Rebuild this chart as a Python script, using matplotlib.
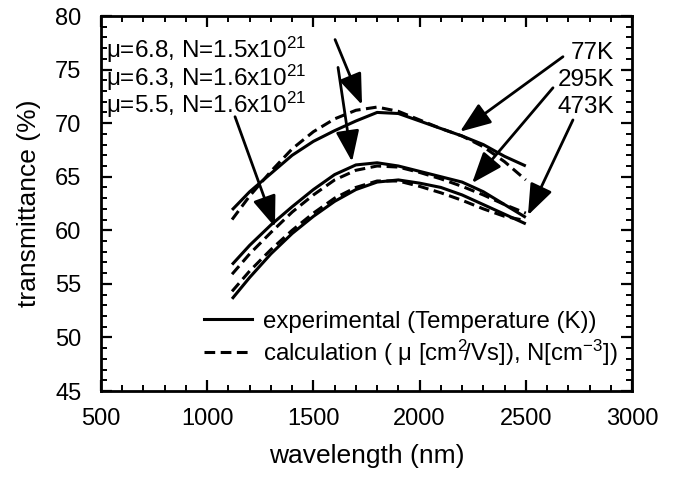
import matplotlib
matplotlib.use('Agg')
import matplotlib.pyplot as plt
from matplotlib.lines import Line2D
from matplotlib.ticker import MultipleLocator

plt.rcParams['font.family'] = ['Liberation Sans', 'DejaVu Sans']
plt.rcParams['mathtext.fontset'] = 'custom'
plt.rcParams['mathtext.rm'] = 'Liberation Sans'
plt.rcParams['mathtext.it'] = 'Liberation Sans:italic'
plt.rcParams['mathtext.default'] = 'rm'

# wavelength grid (nm)
wavelength = [1117, 1200, 1300, 1400, 1500, 1600, 1700, 1800,
              1900, 2000, 2100, 2200, 2300, 2400, 2500]

# experimental transmittance (%)
exp_77K = [61.9, 63.6, 65.3, 67.0, 68.3, 69.3, 70.2, 71.0,
           70.9, 70.2, 69.5, 68.8, 68.0, 66.9, 66.0]
exp_295K = [56.8, 58.6, 60.5, 62.2, 63.8, 65.2, 66.1, 66.3,
            66.0, 65.5, 65.0, 64.5, 63.6, 62.4, 61.2]
exp_473K = [53.6, 55.6, 57.8, 59.7, 61.3, 62.7, 63.8, 64.5,
            64.7, 64.4, 64.0, 63.3, 62.4, 61.5, 60.6]

# calculated transmittance (%)
calc_68 = [61.0, 63.2, 65.5, 67.6, 69.2, 70.4, 71.2, 71.5,
           71.1, 70.3, 69.5, 68.8, 67.8, 66.4, 64.7]
calc_63 = [55.9, 57.8, 59.8, 61.7, 63.3, 64.7, 65.6, 66.0,
           65.9, 65.4, 64.8, 64.1, 63.3, 62.4, 61.6]
calc_55 = [54.3, 56.2, 58.2, 60.0, 61.6, 63.0, 64.0, 64.6,
           64.6, 64.1, 63.5, 62.8, 62.0, 61.3, 60.9]

# left labels (one block of three lines) and their arrows
calc_labels = ['μ=6.8, N=1.5x10$^{21}$',
               'μ=6.3, N=1.6x10$^{21}$',
               'μ=5.5, N=1.6x10$^{21}$']
calc_arrow_from = [(1602, 77.8), (1616, 75.2), (1131, 70.6)]
calc_arrow_to = [(1729, 71.7), (1682, 66.4), (1319, 60.3)]

# right labels
temp_labels = ['77K', '295K', '473K']
temp_arrow_from = [(2675, 76.2), (2628, 73.3), (2722, 70.3)]
temp_arrow_to = [(2190, 69.2), (2247, 64.4), (2510, 61.4)]

legend_labels = ['experimental (Temperature (K))',
                 r'calculation ( μ [cm$^{2}\!/$Vs]), N[cm$^{-3}$])']

fig = plt.figure(figsize=(6.73, 4.86), dpi=100)
ax = fig.add_axes([101 / 673, 95 / 486, 531 / 673, 375 / 486])

lw = 2.2
for y in [exp_77K, exp_295K, exp_473K]:
    ax.plot(wavelength, y, color='black', lw=lw, solid_capstyle='butt')
for y in [calc_68, calc_63, calc_55]:
    ax.plot(wavelength, y, color='black', lw=lw, dashes=(3.5, 1.8))

arrow_style = dict(arrowstyle='-|>,head_length=0.95,head_width=0.36',
                   color='black', lw=2.0, mutation_scale=20,
                   shrinkA=0, shrinkB=0)

ax.text(522, 78.2, '\n'.join(calc_labels), fontsize=17.5,
        ha='left', va='top', linespacing=0.88)
for start, tip in zip(calc_arrow_from, calc_arrow_to):
    ax.annotate('', xy=tip, xytext=start, arrowprops=arrow_style)

ax.text(2915, 77.6, '\n'.join(temp_labels), fontsize=17.5,
        ha='right', va='top', multialignment='right', linespacing=1.3)
for start, tip in zip(temp_arrow_from, temp_arrow_to):
    ax.annotate('', xy=tip, xytext=start, arrowprops=arrow_style)

handles = [Line2D([], [], color='black', lw=lw),
           Line2D([], [], color='black', lw=lw, dashes=(3.5, 1.8))]
leg = ax.legend(handles, legend_labels,
                loc='lower right', bbox_to_anchor=(0.995, 0.03),
                frameon=False, fontsize=17.3, handlelength=2.0,
                handletextpad=0.45, labelspacing=0.2, borderpad=0)

ax.set_xlim(500, 3000)
ax.set_ylim(45, 80)
ax.xaxis.set_major_locator(MultipleLocator(500))
ax.xaxis.set_minor_locator(MultipleLocator(100))
ax.yaxis.set_major_locator(MultipleLocator(5))
ax.yaxis.set_minor_locator(MultipleLocator(1))

ax.tick_params(which='both', direction='in', top=True, right=True,
               labelsize=17)
ax.tick_params(which='major', length=8, width=1.6)
ax.tick_params(which='minor', length=4, width=1.4)
ax.tick_params(axis='x', pad=12)
ax.tick_params(axis='y', pad=14)
for s in ax.spines.values():
    s.set_linewidth(2)

ax.set_xlabel('wavelength (nm)', fontsize=19, labelpad=10)
ax.set_ylabel('transmittance (%)', fontsize=19, labelpad=10)

fig.savefig('out.png', dpi=100)
